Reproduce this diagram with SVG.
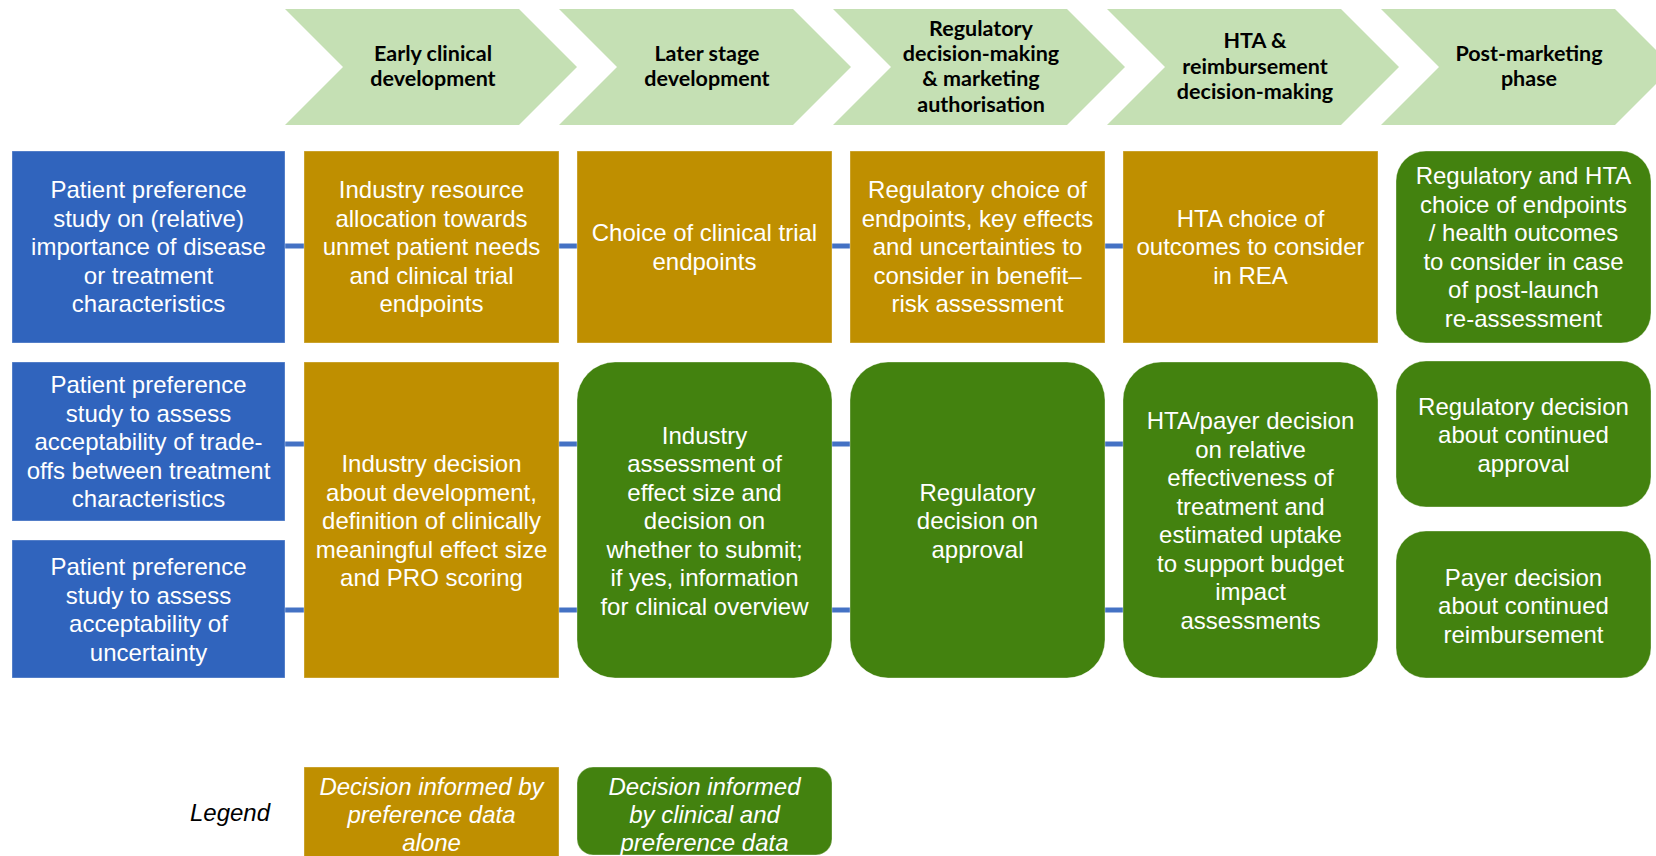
<svg xmlns="http://www.w3.org/2000/svg" width="1656" height="856" viewBox="0 0 1656 856">
<style>
.chev{fill:#C5E0B4}
.h{font-family:Lato,"Liberation Sans",Arial,sans-serif;font-weight:bold;font-size:21.5px;fill:#000;text-anchor:middle}
.t{font-family:"Liberation Sans",Arial,sans-serif;font-size:24px;fill:#fff;text-anchor:middle}
.it{font-style:italic}
.blue{fill:#3064BD;stroke:#fff;stroke-opacity:.35;stroke-width:1}
.gold{fill:#BF8F00;stroke:#fff;stroke-opacity:.35;stroke-width:1}
.green{fill:#43820F;stroke:#fff;stroke-opacity:.35;stroke-width:1}
.conn{stroke:#4472C4;stroke-width:5;fill:none}
</style>
<rect width="1656" height="856" fill="#fff"/>
<g id="phases">
<g id="phase1"><path class="chev" d="M285,9 L519,9 L577,67 L519,125 L285,125 L343,67 Z"/>
<text class="h" x="433"><tspan x="433" y="61">Early clinical</tspan><tspan x="433" y="86">development</tspan></text></g>
<g id="phase2"><path class="chev" d="M559,9 L793,9 L851,67 L793,125 L559,125 L617,67 Z"/>
<text class="h"><tspan x="707" y="61">Later stage</tspan><tspan x="707" y="86">development</tspan></text></g>
<g id="phase3"><path class="chev" d="M833,9 L1067,9 L1125,67 L1067,125 L833,125 L891,67 Z"/>
<text class="h"><tspan x="981" y="35.5">Regulatory</tspan><tspan x="981" y="61">decision-making</tspan><tspan x="981" y="86">&amp; marketing</tspan><tspan x="981" y="111.5">authorisation</tspan></text></g>
<g id="phase4"><path class="chev" d="M1107,9 L1341,9 L1399,67 L1341,125 L1107,125 L1165,67 Z"/>
<text class="h"><tspan x="1255" y="48">HTA &amp;</tspan><tspan x="1255" y="73.5">reimbursement</tspan><tspan x="1255" y="99">decision-making</tspan></text></g>
<g id="phase5"><path class="chev" d="M1381,9 L1615,9 L1673,67 L1615,125 L1381,125 L1439,67 Z"/>
<text class="h"><tspan x="1529" y="61">Post-marketing</tspan><tspan x="1529" y="86">phase</tspan></text></g>
</g>
<g id="connectors">
<line class="conn" x1="285" y1="246" x2="304" y2="246"/>
<line class="conn" x1="559" y1="246" x2="577" y2="246"/>
<line class="conn" x1="832" y1="246" x2="850" y2="246"/>
<line class="conn" x1="1105" y1="246" x2="1123" y2="246"/>
<line class="conn" x1="285" y1="444" x2="304" y2="444"/>
<line class="conn" x1="559" y1="444" x2="577" y2="444"/>
<line class="conn" x1="832" y1="444" x2="850" y2="444"/>
<line class="conn" x1="1105" y1="444" x2="1123" y2="444"/>
<line class="conn" x1="285" y1="610" x2="304" y2="610"/>
<line class="conn" x1="559" y1="610" x2="577" y2="610"/>
<line class="conn" x1="832" y1="610" x2="850" y2="610"/>
<line class="conn" x1="1105" y1="610" x2="1123" y2="610"/>
</g>
<g id="study1"><rect class="blue" x="12" y="151" width="273" height="192"/>
<text class="t"><tspan x="148.5" y="198">Patient preference</tspan><tspan x="148.5" y="226.5">study on (relative)</tspan><tspan x="148.5" y="255">importance of disease</tspan><tspan x="148.5" y="283.5">or treatment</tspan><tspan x="148.5" y="312">characteristics</tspan></text></g>
<g id="r1c2"><rect class="gold" x="304" y="151" width="255" height="192"/>
<text class="t"><tspan x="431.5" y="198">Industry resource</tspan><tspan x="431.5" y="226.5">allocation towards</tspan><tspan x="431.5" y="255">unmet patient needs</tspan><tspan x="431.5" y="283.5">and clinical trial</tspan><tspan x="431.5" y="312">endpoints</tspan></text></g>
<g id="r1c3"><rect class="gold" x="577" y="151" width="255" height="192"/>
<text class="t"><tspan x="704.5" y="241">Choice of clinical trial</tspan><tspan x="704.5" y="269.5">endpoints</tspan></text></g>
<g id="r1c4"><rect class="gold" x="850" y="151" width="255" height="192"/>
<text class="t"><tspan x="977.5" y="198">Regulatory choice of</tspan><tspan x="977.5" y="226.5">endpoints, key effects</tspan><tspan x="977.5" y="255">and uncertainties to</tspan><tspan x="977.5" y="283.5">consider in benefit–</tspan><tspan x="977.5" y="312">risk assessment</tspan></text></g>
<g id="r1c5"><rect class="gold" x="1123" y="151" width="255" height="192"/>
<text class="t"><tspan x="1250.5" y="226.5">HTA choice of</tspan><tspan x="1250.5" y="255">outcomes to consider</tspan><tspan x="1250.5" y="283.5">in REA</tspan></text></g>
<g id="r1c6"><rect class="green" x="1396" y="151" width="255" height="192" rx="30"/>
<text class="t"><tspan x="1523.5" y="184">Regulatory and HTA</tspan><tspan x="1523.5" y="212.5">choice of endpoints</tspan><tspan x="1523.5" y="241">/ health outcomes</tspan><tspan x="1523.5" y="269.5">to consider in case</tspan><tspan x="1523.5" y="298">of post-launch</tspan><tspan x="1523.5" y="326.5">re-assessment</tspan></text></g>
<g id="study2"><rect class="blue" x="12" y="362" width="273" height="159"/>
<text class="t"><tspan x="148.5" y="393">Patient preference</tspan><tspan x="148.5" y="421.5">study to assess</tspan><tspan x="148.5" y="450">acceptability of trade-</tspan><tspan x="148.5" y="478.5">offs between treatment</tspan><tspan x="148.5" y="507">characteristics</tspan></text></g>
<g id="study3"><rect class="blue" x="12" y="540" width="273" height="138"/>
<text class="t"><tspan x="148.5" y="575">Patient preference</tspan><tspan x="148.5" y="603.5">study to assess</tspan><tspan x="148.5" y="632">acceptability of</tspan><tspan x="148.5" y="660.5">uncertainty</tspan></text></g>
<g id="r2c2"><rect class="gold" x="304" y="362" width="255" height="316"/>
<text class="t"><tspan x="431.5" y="472">Industry decision</tspan><tspan x="431.5" y="500.5">about development,</tspan><tspan x="431.5" y="529">definition of clinically</tspan><tspan x="431.5" y="557.5">meaningful effect size</tspan><tspan x="431.5" y="586">and PRO scoring</tspan></text></g>
<g id="r2c3"><rect class="green" x="577" y="362" width="255" height="316" rx="38"/>
<text class="t"><tspan x="704.5" y="443.5">Industry</tspan><tspan x="704.5" y="472">assessment of</tspan><tspan x="704.5" y="500.5">effect size and</tspan><tspan x="704.5" y="529">decision on</tspan><tspan x="704.5" y="557.5">whether to submit;</tspan><tspan x="704.5" y="586">if yes, information</tspan><tspan x="704.5" y="614.5">for clinical overview</tspan></text></g>
<g id="r2c4"><rect class="green" x="850" y="362" width="255" height="316" rx="38"/>
<text class="t"><tspan x="977.5" y="500.5">Regulatory</tspan><tspan x="977.5" y="529">decision on</tspan><tspan x="977.5" y="557.5">approval</tspan></text></g>
<g id="r2c5"><rect class="green" x="1123" y="362" width="255" height="316" rx="38"/>
<text class="t"><tspan x="1250.5" y="429">HTA/payer decision</tspan><tspan x="1250.5" y="457.5">on relative</tspan><tspan x="1250.5" y="486">effectiveness of</tspan><tspan x="1250.5" y="514.5">treatment and</tspan><tspan x="1250.5" y="543">estimated uptake</tspan><tspan x="1250.5" y="571.5">to support budget</tspan><tspan x="1250.5" y="600">impact</tspan><tspan x="1250.5" y="628.5">assessments</tspan></text></g>
<g id="r2c6a"><rect class="green" x="1396" y="361" width="255" height="146" rx="30"/>
<text class="t"><tspan x="1523.5" y="414.5">Regulatory decision</tspan><tspan x="1523.5" y="443">about continued</tspan><tspan x="1523.5" y="471.5">approval</tspan></text></g>
<g id="r2c6b"><rect class="green" x="1396" y="531" width="255" height="147" rx="30"/>
<text class="t"><tspan x="1523.5" y="585.5">Payer decision</tspan><tspan x="1523.5" y="614">about continued</tspan><tspan x="1523.5" y="642.5">reimbursement</tspan></text></g>
<g id="legend">
<text class="t it" x="230" y="821" style="fill:#000">Legend</text>
<g id="legend-gold"><rect class="gold" x="304" y="767" width="255" height="90"/>
<text class="t it"><tspan x="431.5" y="795">Decision informed by</tspan><tspan x="431.5" y="823">preference data</tspan><tspan x="431.5" y="851">alone</tspan></text></g>
<g id="legend-green"><rect class="green" x="577" y="767" width="255" height="88" rx="16"/>
<text class="t it"><tspan x="704.5" y="795">Decision informed</tspan><tspan x="704.5" y="823">by clinical and</tspan><tspan x="704.5" y="851">preference data</tspan></text></g>
</g>
</svg>
